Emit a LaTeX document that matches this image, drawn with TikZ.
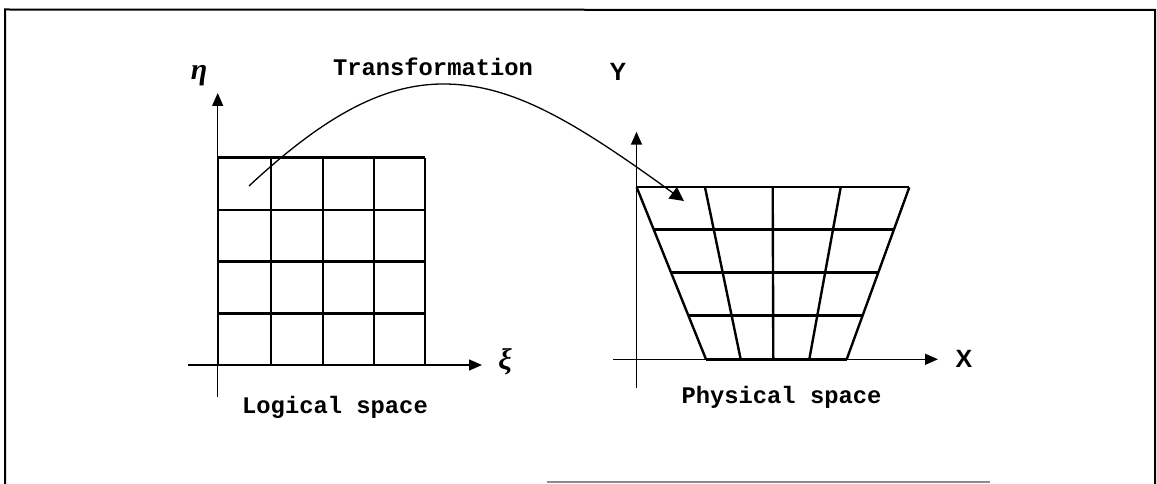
\documentclass[tikz,border=0pt]{standalone}
\usepackage{fontspec}
\setmainfont{Liberation Mono}
\newfontfamily\lsans{Liberation Sans}
\newfontfamily\lserif{Liberation Serif}
\usetikzlibrary{arrows.meta,calc}
\tikzset{
  gridline/.style={line width=2.4pt},
  axisline/.style={line width=1.5pt,-{Triangle[length=13pt,width=11pt]}},
  plainaxis/.style={line width=1.5pt},
  curveline/.style={line width=1.3pt,-{Triangle[length=14pt,width=14pt]}},
  lbl/.style={inner sep=0pt,font=\bfseries\fontsize{23.8}{26}\selectfont},
  greek/.style={inner sep=0pt,font=\lserif\bfseries\itshape\fontsize{30}{32}\selectfont},
  axlbl/.style={inner sep=0pt,font=\lsans\bfseries\fontsize{25}{27}\selectfont},
  frameline/.style={line width=2pt}
}
\begin{document}
\begin{tikzpicture}[x=1pt,y=-1pt]
\useasboundingbox (0,0) rectangle (1157,484);
% frame
\draw[frameline] (5,484) -- (5,9.5) -- (1155,10) -- (1155,484);
\draw[line width=1.5pt,black!45] (547,482) -- (990,482);

% ---------------- logical space ----------------
\coordinate (etaBot) at (217.7,396.7);
\coordinate (etaTop) at (217.7,93);
\coordinate (xiL) at (188,365);
\coordinate (xiR) at (482,365);
\draw[plainaxis] (etaBot) -- (217.7,365);
\draw[axisline] (217.7,365) -- (etaTop);
\draw[axisline] (xiL) -- (xiR);
\foreach \x in {217.7,270.7,322.7,373.7,425}
  \draw[gridline] (\x,157.7) -- (\x,365);
\foreach \y in {157.7,209.7,261.5,313.3}
  \draw[gridline] (217.7,\y) -- (425,\y);
\draw[gridline] (217.7,365) -- (425,365);

\node[greek] (eta) at (199,76) {η};
\node[greek] (xi) at (505,362) {ξ};
\node[lbl] (logical) at (335,407) {Logical space};

% ---------------- physical space ----------------
\coordinate (yBot) at (636.5,388);
\coordinate (yTop) at (636.5,131.7);
\coordinate (xL) at (613,359.3);
\coordinate (xR) at (938,359.3);
\draw[axisline] (yBot) -- (yTop);
\draw[axisline] (xL) -- (xR);

\coordinate (t0) at (636.7,187.3);
\coordinate (t1) at (705,187.3);
\coordinate (t2) at (772.7,187.3);
\coordinate (t3) at (840.7,187.3);
\coordinate (t4) at (909.3,187.3);
\coordinate (b0) at (706,359.3);
\coordinate (b1) at (740.7,359.3);
\coordinate (b2) at (773.3,359.3);
\coordinate (b3) at (809.3,359.3);
\coordinate (b4) at (846.7,359.3);
\foreach \i in {0,...,4}
  \draw[gridline] (t\i) -- (b\i);
\foreach \t in {0,0.245,0.495,0.745,1}
  \draw[gridline] ($(t0)!\t!(b0)$) -- ($(t4)!\t!(b4)$);

\node[axlbl] (Y) at (618,72) {Y};
\node[axlbl] (X) at (964,358.5) {X};
\node[lbl] (physical) at (781.5,397) {Physical space};

% ---------------- transformation ----------------
\node[lbl] (trans) at (433,67) {Transformation};
\coordinate (cs) at (249,186);
\coordinate (cp) at (443,84);
\coordinate (ce) at (684,201);
\draw[line width=1.3pt] (cs) .. controls (320,120) and (380,84) .. (cp);
\draw[curveline] (cp) .. controls (510,84) and (570,118) .. (ce);
\end{tikzpicture}
\end{document}
